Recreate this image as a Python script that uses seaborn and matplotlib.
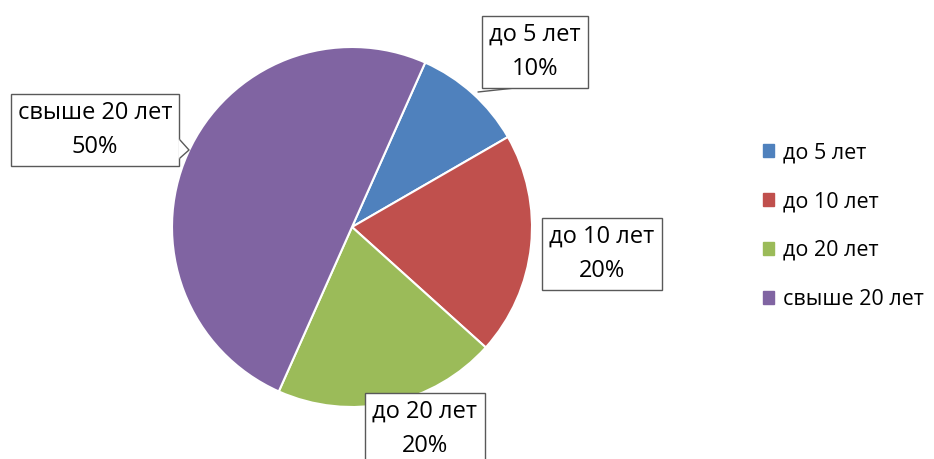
import matplotlib
matplotlib.use('Agg')
import matplotlib.pyplot as plt
import seaborn as sns

sns.set_theme(style='white')
plt.rcParams['font.family'] = ['Open Sans', 'DejaVu Sans']

# data
categories = ['до 5 лет', 'до 10 лет', 'до 20 лет', 'свыше 20 лет']
shares = [10, 20, 20, 50]
colors = ['#4F81BD', '#C0504D', '#9BBB59', '#8064A2']

# label box centres (pixels, origin top-left)
label_pos = [(535, 52), (602, 254), (425, 429), (95, 130)]

W, H = 934, 459
fig = plt.figure(figsize=(W / 100, H / 100), dpi=100)
ax = fig.add_axes([0, 0, 1, 1])

cx, cy, r = 352, H - 227, 180
ax.pie(shares, colors=colors, startangle=66, counterclock=False,
       center=(cx, cy), radius=r, frame=True,
       wedgeprops=dict(edgecolor='white', linewidth=1.5))
ax.set_xlim(0, W)
ax.set_ylim(0, H)
ax.set_aspect('equal')
ax.axis('off')

edge = '#595959'
box = dict(boxstyle='square,pad=0.3', facecolor='white', edgecolor=edge, linewidth=1)
for cat, val, (px, py) in zip(categories, shares, label_pos):
    ax.text(px, H - py, f'{cat}\n{val}%', ha='center', va='center', fontsize=17,
            color='black', linespacing=1.6, bbox=box, zorder=5)

# callout tails
ax.plot([478, 524], [H - 92, H - 87], color=edge, linewidth=1, zorder=4)
ax.fill([179, 189, 179], [H - 140, H - 150, H - 158], color='white', zorder=6)
ax.plot([180, 189, 180], [H - 140, H - 150, H - 158], color=edge, linewidth=1, zorder=7)

handles = [plt.Rectangle((0, 0), 1, 1, color=c) for c in colors]
ax.legend(handles, categories, loc='center left', bbox_to_anchor=(754 / W, 1 - 226 / H),
          frameon=False, fontsize=15.5, handlelength=0.55, handleheight=0.55,
          handletextpad=0.4, labelspacing=1.3, borderaxespad=0, labelcolor='black')

fig.savefig('out.png', dpi=100)
